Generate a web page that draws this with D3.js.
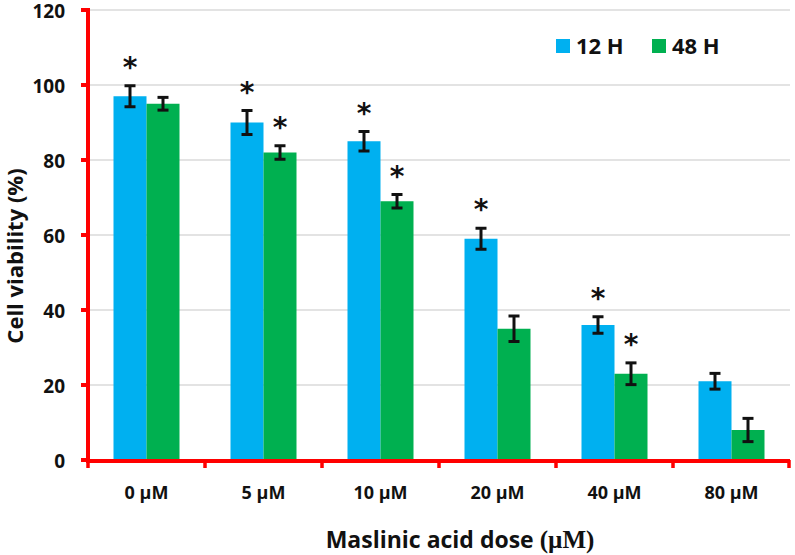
<!DOCTYPE html>
<html><head><meta charset="utf-8">
<script src="https://cdn.jsdelivr.net/npm/d3@7"></script>
<style>body{margin:0;background:#fff}svg{display:block}</style>
</head><body>
<script>
const categories = ["0 µM","5 µM","10 µM","20 µM","40 µM","80 µM"];
const seriesNames = ["12 H","48 H"];
const values12 = [97, 90, 85, 59, 36, 21];
const values48 = [95, 82, 69, 35, 23, 8];
const err12 = [2.8, 3.2, 2.6, 2.8, 2.2, 2.1];
const err48 = [1.7, 1.8, 1.8, 3.4, 2.9, 3.1];
const sig12 = [true, true, true, true, true, false];
const sig48 = [false, true, true, false, true, false];
const yTicks = [0, 20, 40, 60, 80, 100, 120];
const colors = ["#00B0F0", "#00B050"];

const W = 795, H = 555;
const font = "'Open Sans', Lato, sans-serif";
const svg = d3.select("body").append("svg").attr("width", W).attr("height", H);

const x0 = 88, x1 = 790, yBase = 460, yTop = 10;
const x = d3.scaleBand().domain(categories).range([x0, x1]).paddingInner(0).paddingOuter(0);
const y = d3.scaleLinear().domain([0, 120]).range([yBase, yTop]);
const groupW = 66;
const xs = d3.scaleBand().domain(seriesNames).range([0, groupW]);
const offset = (x.bandwidth() - groupW) / 2;

// gridlines
svg.append("g").selectAll("line").data(yTicks.filter(d => d > 0)).join("line")
  .attr("x1", x0).attr("x2", x1).attr("y1", d => y(d)).attr("y2", d => y(d))
  .attr("stroke", "#c8c8c8").attr("stroke-width", 1.2);

const data = categories.map((c, i) => ({cat: c, series: [
  {name: seriesNames[0], v: values12[i], e: err12[i], s: sig12[i], color: colors[0]},
  {name: seriesNames[1], v: values48[i], e: err48[i], s: sig48[i], color: colors[1]}
]}));

const g = svg.append("g").selectAll("g").data(data).join("g")
  .attr("transform", d => `translate(${x(d.cat) + offset},0)`);

g.selectAll("rect").data(d => d.series).join("rect")
  .attr("x", d => xs(d.name)).attr("width", xs.bandwidth())
  .attr("y", d => y(d.v)).attr("height", d => y(0) - y(d.v))
  .attr("fill", d => d.color);

// error bars
const eb = g.selectAll("g.eb").data(d => d.series).join("g").attr("class", "eb")
  .attr("transform", d => `translate(${xs(d.name) + xs.bandwidth() / 2},0)`);
eb.append("line").attr("x1", 0).attr("x2", 0)
  .attr("y1", d => y(d.v + d.e)).attr("y2", d => y(d.v - d.e))
  .attr("stroke", "#111").attr("stroke-width", 3);
eb.append("line").attr("x1", -5.5).attr("x2", 5.5)
  .attr("y1", d => y(d.v + d.e)).attr("y2", d => y(d.v + d.e))
  .attr("stroke", "#111").attr("stroke-width", 3);
eb.append("line").attr("x1", -5.5).attr("x2", 5.5)
  .attr("y1", d => y(d.v - d.e)).attr("y2", d => y(d.v - d.e))
  .attr("stroke", "#111").attr("stroke-width", 3);
eb.filter(d => d.s).append("text")
  .attr("x", 0).attr("y", d => y(d.v + d.e) - 9)
  .attr("text-anchor", "middle").attr("font-family", "'DejaVu Sans', sans-serif").attr("font-weight", 700)
  .attr("font-size", 28).attr("fill", "#111").text("*");

// y axis
const red = "#FF0000";
svg.append("line").attr("x1", x0).attr("x2", x0).attr("y1", y(120) - 2).attr("y2", yBase + 2)
  .attr("stroke", red).attr("stroke-width", 4);
svg.append("g").selectAll("line").data(yTicks).join("line")
  .attr("x1", x0 - 7).attr("x2", x0).attr("y1", d => y(d)).attr("y2", d => y(d))
  .attr("stroke", red).attr("stroke-width", 4);
svg.append("g").selectAll("text").data(yTicks).join("text")
  .attr("x", 65).attr("y", d => y(d)).attr("dy", "0.4em").attr("text-anchor", "end")
  .attr("font-family", font).attr("font-weight", 700).attr("font-size", 19).attr("fill", "#111")
  .text(d => d);

// x axis
svg.append("line").attr("x1", x0 - 2).attr("x2", x1).attr("y1", yBase + 1).attr("y2", yBase + 1)
  .attr("stroke", red).attr("stroke-width", 4);
const xTickPos = categories.map(c => x(c)).concat([x1 - 1]);
svg.append("g").selectAll("line").data(xTickPos).join("line")
  .attr("x1", d => d).attr("x2", d => d).attr("y1", yBase).attr("y2", yBase + 8)
  .attr("stroke", red).attr("stroke-width", 3.5);
svg.append("g").selectAll("text").data(categories).join("text")
  .attr("x", d => x(d) + x.bandwidth() / 2).attr("y", 499).attr("text-anchor", "middle")
  .attr("font-family", font).attr("font-weight", 700).attr("font-size", 18).attr("fill", "#111")
  .text(d => d);

// axis titles
const xt = svg.append("text").attr("x", 460).attr("y", 548).attr("text-anchor", "middle")
  .attr("font-family", font).attr("font-weight", 700).attr("font-size", 23).attr("fill", "#111");
xt.append("tspan").text("Maslinic acid dose ");
xt.append("tspan").attr("font-family", "'Liberation Serif', 'DejaVu Serif', serif").attr("font-size", 25).text("(µM)");

svg.append("text").attr("transform", "translate(23,256) rotate(-90)").attr("text-anchor", "middle")
  .attr("font-family", font).attr("font-weight", 700).attr("font-size", 22).attr("fill", "#111")
  .text("Cell viability (%)");

// legend
const lg = svg.append("g").selectAll("g").data(seriesNames).join("g")
  .attr("transform", (d, i) => `translate(${556 + i * 96},39)`);
lg.append("rect").attr("width", 14).attr("height", 14).attr("fill", (d, i) => colors[i]);
lg.append("text").attr("x", 20).attr("y", 7).attr("dy", "0.37em")
  .attr("font-family", font).attr("font-weight", 700).attr("font-size", 22).attr("fill", "#111")
  .text(d => d);
</script>
</body></html>
